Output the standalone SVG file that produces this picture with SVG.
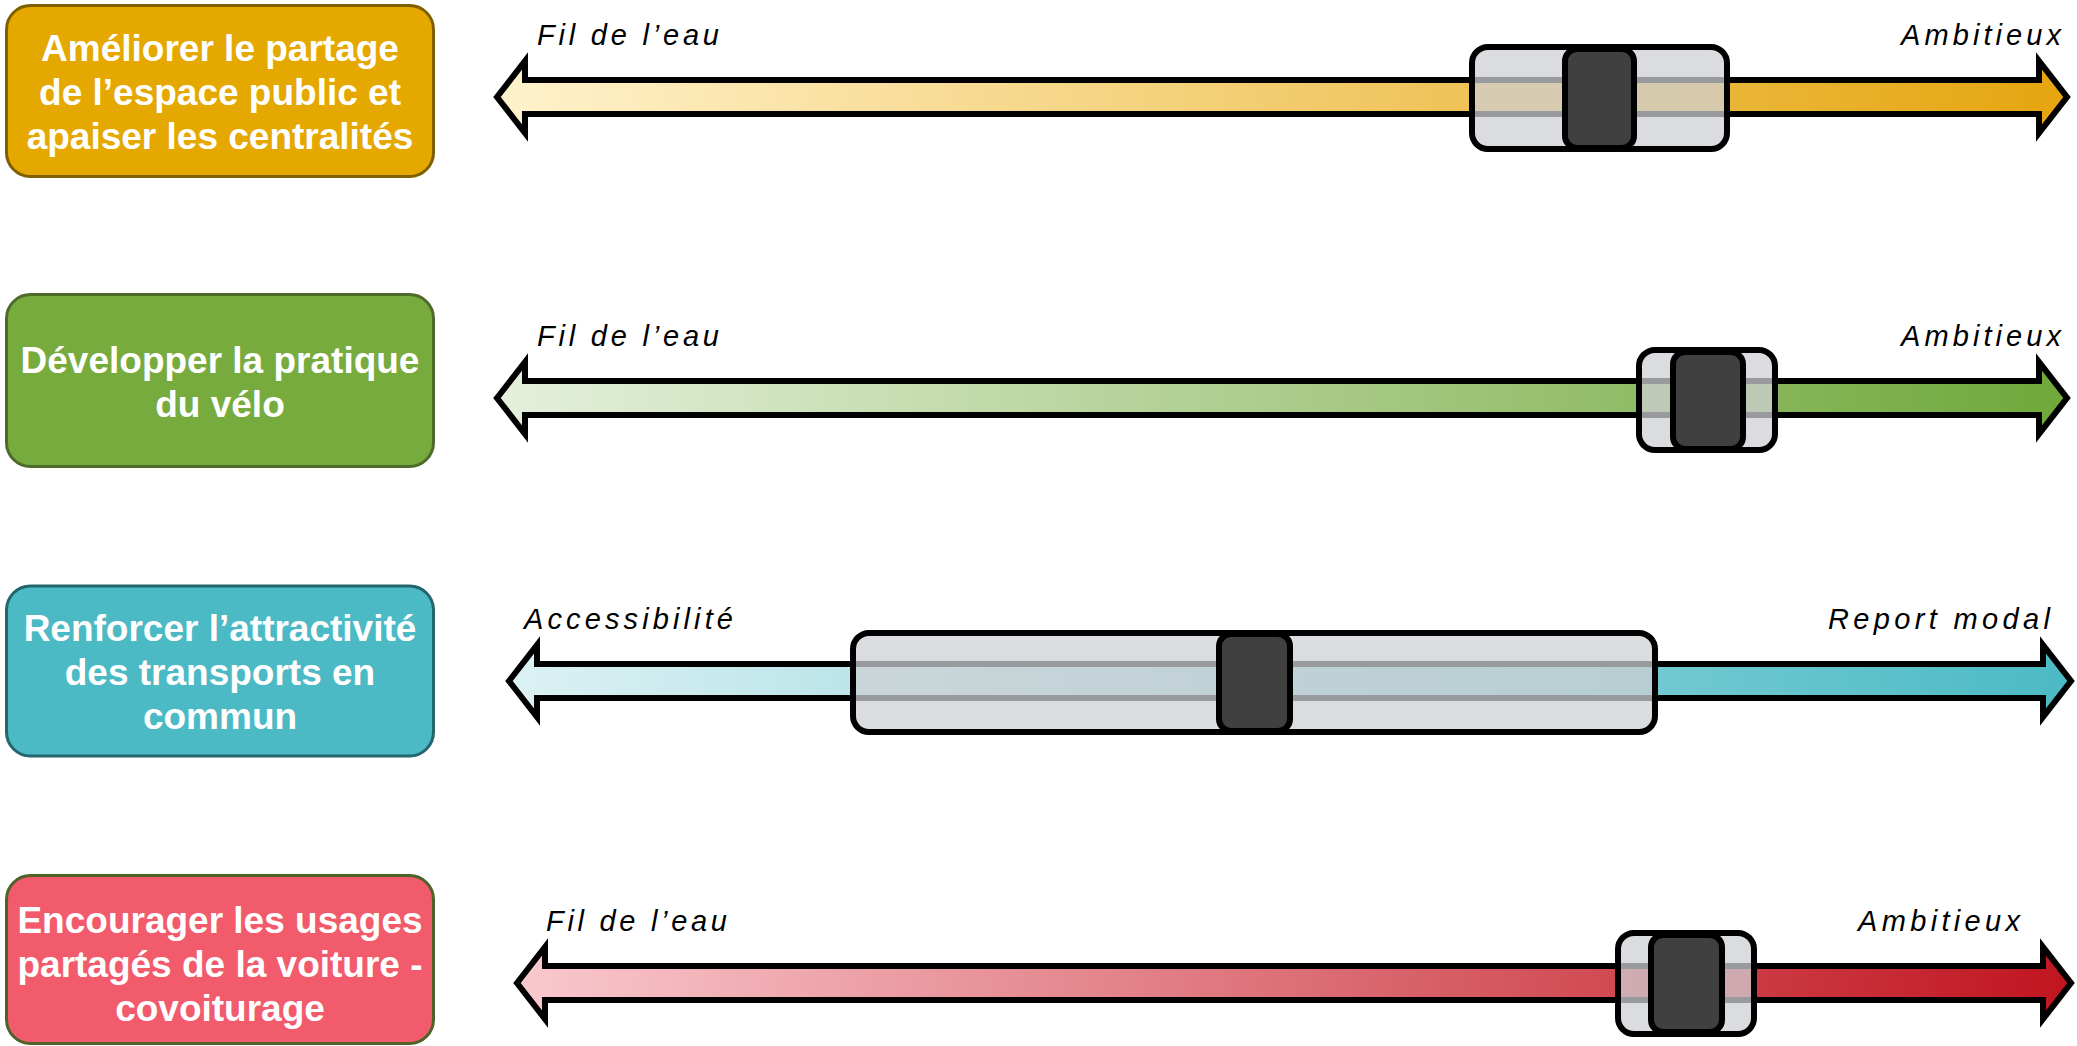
<svg xmlns="http://www.w3.org/2000/svg" width="2077" height="1046" viewBox="0 0 2077 1046">
  <style>
    .box { stroke-width: 3; }
    .box-text { font-family: "Liberation Sans", Arial, sans-serif; font-weight: bold; font-size: 37px; fill: #ffffff; text-anchor: middle; }
    .axis-label { font-family: "Liberation Sans", Arial, sans-serif; font-style: italic; font-size: 29px; fill: #000000; }
    .arrow { stroke: #000000; stroke-width: 6; stroke-linejoin: miter; stroke-miterlimit: 10; }
    .range { fill: #cfd0d4; fill-opacity: 0.74; stroke: #000000; stroke-width: 6; }
    .knob { fill: #404040; stroke: #000000; stroke-width: 6; }
  </style>
  <defs>
    <linearGradient id="grad-gold" x1="0" y1="0" x2="1" y2="0">
      <stop offset="0" stop-color="#fff2cc"/>
      <stop offset="1" stop-color="#e5a50f"/>
    </linearGradient>
    <linearGradient id="grad-green" x1="0" y1="0" x2="1" y2="0">
      <stop offset="0" stop-color="#e5f0dc"/>
      <stop offset="1" stop-color="#70a83a"/>
    </linearGradient>
    <linearGradient id="grad-teal" x1="0" y1="0" x2="1" y2="0">
      <stop offset="0" stop-color="#dcf1f3"/>
      <stop offset="1" stop-color="#4bbac4"/>
    </linearGradient>
    <linearGradient id="grad-red" x1="0" y1="0" x2="1" y2="0">
      <stop offset="0" stop-color="#f9c9ce"/>
      <stop offset="1" stop-color="#c0151f"/>
    </linearGradient>
  </defs>

  <rect width="2077" height="1046" fill="#ffffff"/>

  <!-- Theme boxes -->
  <g id="theme-espace-public">
    <rect class="box" x="6.5" y="5.5" width="427" height="171" rx="24" fill="#e5a800" stroke="#7f6000"/>
    <text class="box-text" x="220" y="61">Améliorer le partage</text>
    <text class="box-text" x="220" y="105">de l’espace public et</text>
    <text class="box-text" x="220" y="149">apaiser les centralités</text>
  </g>
  <g id="theme-velo">
    <rect class="box" x="6.5" y="294.5" width="427" height="172" rx="24" fill="#78ab3e" stroke="#4e6b2a"/>
    <text class="box-text" x="220" y="373">Développer la pratique</text>
    <text class="box-text" x="220" y="417">du vélo</text>
  </g>
  <g id="theme-transports">
    <rect class="box" x="6.5" y="586" width="427" height="170" rx="24" fill="#4bbac5" stroke="#22666e"/>
    <text class="box-text" x="220" y="641">Renforcer l’attractivité</text>
    <text class="box-text" x="220" y="685">des transports en</text>
    <text class="box-text" x="220" y="729">commun</text>
  </g>
  <g id="theme-covoiturage">
    <rect class="box" x="6.5" y="875.5" width="427" height="168" rx="24" fill="#f15b6b" stroke="#4f6228"/>
    <text class="box-text" x="220" y="933">Encourager les usages</text>
    <text class="box-text" x="220" y="977">partagés de la voiture -</text>
    <text class="box-text" x="220" y="1021">covoiturage</text>
  </g>

  <!-- Double-headed scale arrows -->
  <g id="connectors">
    <path class="arrow" fill="url(#grad-gold)" d="M497 97 L525 61 L525 80 L2039 80 L2039 61 L2067 97 L2039 133 L2039 114 L525 114 L525 133 Z"/>
    <path class="arrow" fill="url(#grad-green)" d="M497 398 L525 362 L525 381 L2039 381 L2039 362 L2067 398 L2039 434 L2039 415 L525 415 L525 434 Z"/>
    <path class="arrow" fill="url(#grad-teal)" d="M509 681 L537 645 L537 664 L2043 664 L2043 645 L2071 681 L2043 717 L2043 698 L537 698 L537 717 Z"/>
    <path class="arrow" fill="url(#grad-red)" d="M517 983 L545 947 L545 966 L2043 966 L2043 947 L2071 983 L2043 1019 L2043 1000 L545 1000 L545 1019 Z"/>
  </g>

  <!-- Scale end labels -->
  <g id="labels-espace-public">
    <text class="axis-label" x="537" y="45" textLength="182" lengthAdjust="spacing">Fil de l’eau</text>
    <text class="axis-label" x="1901" y="45" textLength="160" lengthAdjust="spacing">Ambitieux</text>
  </g>
  <g id="labels-velo">
    <text class="axis-label" x="537" y="346" textLength="182" lengthAdjust="spacing">Fil de l’eau</text>
    <text class="axis-label" x="1901" y="346" textLength="160" lengthAdjust="spacing">Ambitieux</text>
  </g>
  <g id="labels-transports">
    <text class="axis-label" x="524" y="629" textLength="209" lengthAdjust="spacing">Accessibilité</text>
    <text class="axis-label" x="1828" y="629" textLength="222" lengthAdjust="spacing">Report modal</text>
  </g>
  <g id="labels-covoiturage">
    <text class="axis-label" x="546" y="931" textLength="181" lengthAdjust="spacing">Fil de l’eau</text>
    <text class="axis-label" x="1858" y="931" textLength="162" lengthAdjust="spacing">Ambitieux</text>
  </g>

  <!-- Range sliders with position knobs -->
  <g id="slider-espace-public">
    <rect class="range" x="1472" y="47" width="255" height="102" rx="16"/>
    <rect class="knob" x="1565" y="49" width="69" height="99" rx="12"/>
  </g>
  <g id="slider-velo">
    <rect class="range" x="1639" y="350" width="136" height="100" rx="16"/>
    <rect class="knob" x="1673" y="352" width="70" height="97" rx="12"/>
  </g>
  <g id="slider-transports">
    <rect class="range" x="853" y="633" width="802" height="99" rx="16"/>
    <rect class="knob" x="1219" y="634" width="71" height="97" rx="12"/>
  </g>
  <g id="slider-covoiturage">
    <rect class="range" x="1618" y="933" width="136" height="101" rx="16"/>
    <rect class="knob" x="1651" y="935" width="71" height="97" rx="12"/>
  </g>
</svg>
